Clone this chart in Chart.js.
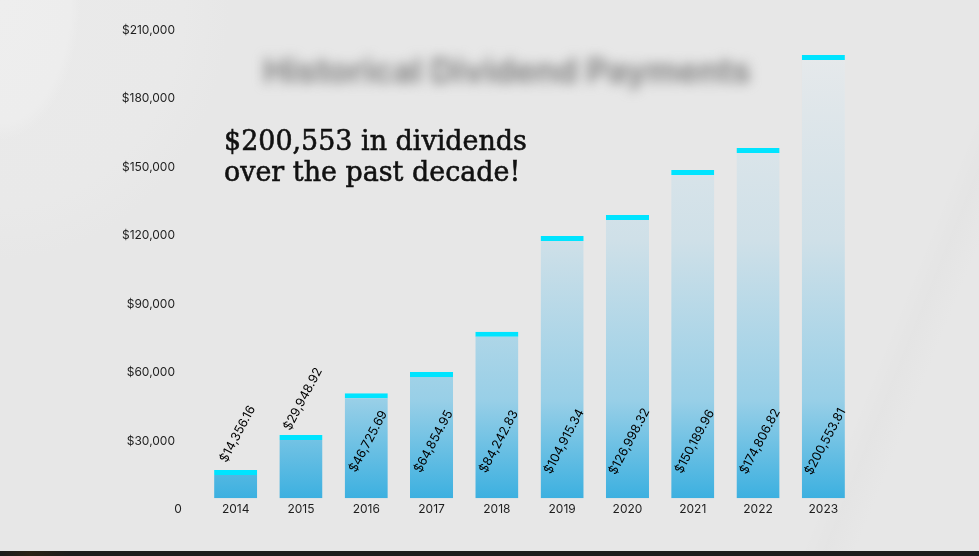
<!DOCTYPE html>
<html>
<head>
<meta charset="utf-8">
<script src="https://cdn.jsdelivr.net/npm/chart.js@4.4.1/dist/chart.umd.min.js"></script>
<style>
  html, body { margin: 0; padding: 0; }
  body {
    width: 979px; height: 556px; overflow: hidden; position: relative;
    font-family: Inter, sans-serif;
    background:
      radial-gradient(ellipse 80px 140px at 0px 0px, rgba(238,238,238,1) 0%, rgba(237,237,237,1) 88%, rgba(237,237,237,0) 100%),
      radial-gradient(ellipse 230px 260px at 0px 0px, #eaeaea 0%, #e9e9e9 80%, rgba(233,233,233,0) 100%),
      linear-gradient(112deg, rgba(0,0,0,0) 85%, rgba(0,0,0,0.012) 87%, rgba(255,255,255,0.02) 90%, rgba(0,0,0,0) 93%),
      #e7e7e7;
  }
  #wrap { position: absolute; left: 0; top: 0; width: 979px; height: 551px; }
  #strip {
    position: absolute; left: 0; top: 551px; width: 979px; height: 5px;
    background: linear-gradient(90deg, #1c1c1c 0px, #2a2115 30px, #1c1c1c 70px, #1c1c1c 100%);
  }
  #blurTitle {
    position: absolute; left: 263px; top: 50px;
    font: bold 34px Inter, sans-serif; color: #858585;
    filter: blur(6px); white-space: nowrap;
  }
  #headline {
    position: absolute; left: 224px; top: 125px;
    font: 28.5px 'DejaVu Serif', serif;
    -webkit-text-stroke: 0.6px #111;
    line-height: 31px; color: #111; white-space: nowrap;
    transform-origin: 0 0;
  }
</style>
</head>
<body>
<div id="blurTitle">Historical Dividend Payments</div>
<div id="wrap"><canvas id="divChart"></canvas></div>
<div id="headline">$200,553 in dividends<br>over the past decade!</div>
<div id="strip"></div>
<script>
// years on the x axis
const years = ['2014', '2015', '2016', '2017', '2018', '2019', '2020', '2021', '2022', '2023'];
// bar tops as drawn in the picture
const barValues = [17300, 32600, 50900, 60200, 77800, 119800, 129000, 148700, 158300, 199100];
// bars start a little above zero in the picture
const barBase = 4900;
// texts written on the bars
const valueLabels = ['$14,356.16', '$29,948.92', '$46,725.69', '$64,854.95', '$84,242.83',
    '$104,915.34', '$126,998.32', '$150,189.96', '$174,806.82', '$200,553.81'];
// y axis
const yMin = 0;
const yMax = 210000;
const yStep = 30000;

// squeeze the headline to the width it has in the picture
const headline = document.getElementById('headline');
headline.style.transform = 'scaleX(' + (303 / headline.getBoundingClientRect().width).toFixed(3) + ')';

// Vertical fade from blue at the base to almost background at the top
const barGradient = (context) => {
    const chart = context.chart;
    const { ctx, chartArea } = chart;
    if (!chartArea) return '#4ab3e0';
    const y = chart.scales.y;
    const g = ctx.createLinearGradient(0, y.getPixelForValue(barBase), 0, y.getPixelForValue(200000));
    g.addColorStop(0, '#3cb0e0');
    g.addColorStop(0.22, '#98cfe7');
    g.addColorStop(0.58, '#cfe0e8');
    g.addColorStop(1, '#e6e9eb');
    return g;
};

// Rotated value labels, year labels and the lone "0" tick
const barTexts = {
    id: 'barTexts',
    afterDatasetsDraw(chart) {
        const { ctx, chartArea } = chart;
        const meta = chart.getDatasetMeta(0);
        ctx.save();
        ctx.font = '12.5px Inter';
        ctx.fillStyle = '#000';
        ctx.textAlign = 'center';
        ctx.textBaseline = 'middle';
        meta.data.forEach((bar, i) => {
            const h = bar.base - bar.y;
            const cx = bar.x + 2;
            const cy = h > 80 ? chartArea.bottom - 68 : bar.y - 36;
            ctx.save();
            ctx.translate(cx, cy);
            ctx.rotate(-62 * Math.PI / 180);
            ctx.fillText(valueLabels[i], 0, 0);
            ctx.restore();
        });
        const xs = chart.scales.x;
        const zeroY = chart.scales.y.getPixelForValue(0);
        ctx.font = '12px Inter';
        ctx.fillStyle = '#1e1e1e';
        years.forEach((yr, i) => ctx.fillText(yr, xs.getPixelForValue(i), zeroY));
        ctx.fillText('0', chartArea.left - 25, zeroY);
        ctx.restore();
    }
};

const ctx = document.getElementById('divChart').getContext('2d');
new Chart(ctx, {
    type: 'bar',
    data: {
        labels: years,
        datasets: [{
            data: barValues,
            base: barBase,
            backgroundColor: barGradient,
            borderColor: '#00e4ff',
            borderWidth: { top: 5, left: 0, right: 0, bottom: 0 },
            borderSkipped: false,
            barPercentage: 0.66,
            categoryPercentage: 1
        }]
    },
    options: {
        responsive: true,
        maintainAspectRatio: false,
        animation: false,
        layout: { padding: { left: 0, right: 123, top: 30, bottom: 0 } },
        plugins: {
            legend: { display: false },
            tooltip: { enabled: false }
        },
        scales: {
            x: {
                grid: { display: false, drawTicks: false },
                border: { display: false },
                ticks: { display: false },
                afterFit: (s) => { s.height = 41.5; }
            },
            y: {
                min: yMin,
                max: yMax,
                grid: { display: false, drawTicks: false },
                border: { display: false },
                ticks: {
                    stepSize: yStep,
                    color: '#1e1e1e',
                    font: { family: 'Inter', size: 12 },
                    padding: 28,
                    callback: (v) => v === 0 ? '' : '$' + v.toLocaleString('en-US')
                },
                afterFit: (s) => {
                    s.width = 203;
                    // the tick padding should not push the plot area down
                    s.paddingTop = 7;
                    s.paddingBottom = 7;
                }
            }
        }
    },
    plugins: [barTexts]
});
</script>
</body>
</html>
